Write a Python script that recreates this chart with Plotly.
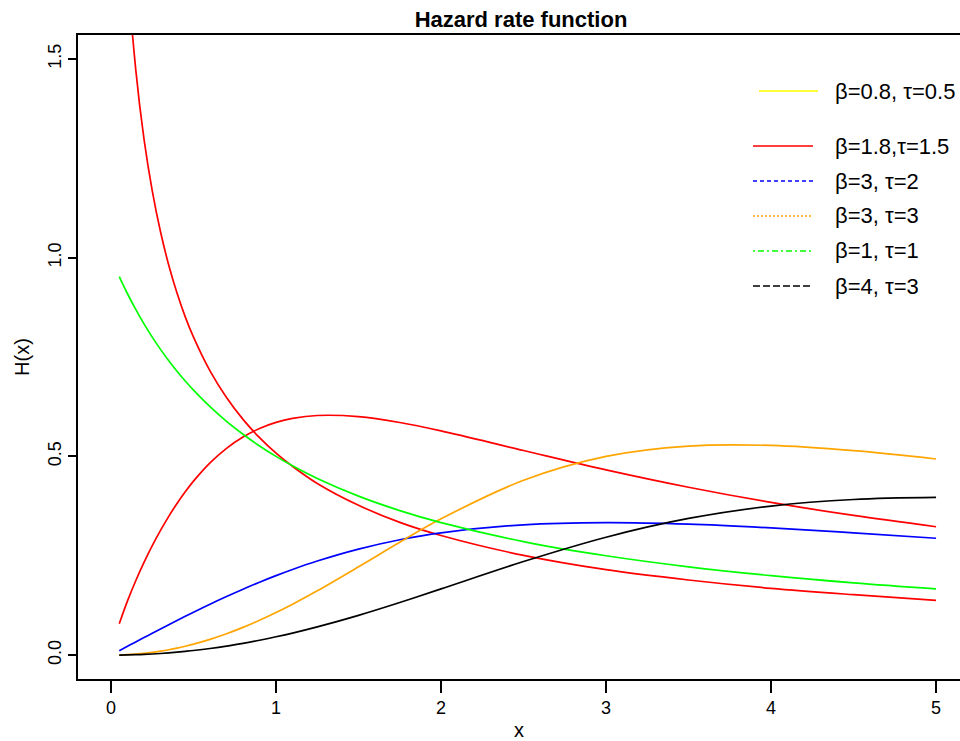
import plotly.graph_objects as go

# ---- data ----
x_vals = [0.05, 0.1, 0.15, 0.2, 0.25, 0.3, 0.35, 0.4, 0.45, 0.5, 0.6, 0.7, 0.8, 0.9,
          1.0, 1.1, 1.25, 1.5, 1.75, 2.0, 2.5, 3.0, 3.5, 4.0, 4.5, 5.0]

h_b08_t05 = [2.189, 1.730, 1.473, 1.298, 1.168, 1.065, 0.981, 0.911, 0.851, 0.800, 0.715,
             0.648, 0.593, 0.547, 0.508, 0.475, 0.432, 0.377, 0.334, 0.301, 0.251, 0.215,
             0.189, 0.168, 0.152, 0.138]
h_b18_t15 = [0.0788, 0.1364, 0.1872, 0.2332, 0.2753, 0.3138, 0.3492, 0.3815, 0.4110, 0.4377,
             0.4836, 0.5203, 0.5487, 0.5701, 0.5854, 0.5955, 0.6029, 0.6000, 0.5852, 0.5640,
             0.5147, 0.4661, 0.4224, 0.3842, 0.3514, 0.3230]
h_b3_t2 = [0.0111, 0.0222, 0.0333, 0.0442, 0.0552, 0.0660, 0.0767, 0.0873, 0.0978, 0.1081,
           0.1282, 0.1475, 0.1660, 0.1835, 0.2000, 0.2155, 0.2367, 0.2667, 0.2902, 0.3077,
           0.3279, 0.3333, 0.3294, 0.3200, 0.3077, 0.2941]
h_b3_t3 = [0.0003, 0.0011, 0.0025, 0.0044, 0.0069, 0.0100, 0.0136, 0.0177, 0.0224, 0.0277,
           0.0397, 0.0538, 0.0698, 0.0876, 0.1071, 0.1281, 0.1619, 0.2222, 0.2839, 0.3429,
           0.4399, 0.5000, 0.5259, 0.5275, 0.5143, 0.4934]
h_b1_t1 = [0.9524, 0.9091, 0.8696, 0.8333, 0.8000, 0.7692, 0.7407, 0.7143, 0.6897, 0.6667,
           0.6250, 0.5882, 0.5556, 0.5263, 0.5000, 0.4762, 0.4444, 0.4000, 0.3636, 0.3333,
           0.2857, 0.2500, 0.2222, 0.2000, 0.1818, 0.1667]
h_b4_t3 = [0.0001, 0.0005, 0.0011, 0.0019, 0.0029, 0.0042, 0.0057, 0.0075, 0.0095, 0.0117,
           0.0168, 0.0228, 0.0298, 0.0375, 0.0462, 0.0556, 0.0711, 0.1002, 0.1325, 0.1667,
           0.2355, 0.2967, 0.3439, 0.3750, 0.3916, 0.3968]

series = [h_b08_t05, h_b18_t15, h_b3_t2, h_b3_t3, h_b1_t1, h_b4_t3]
curve_colors = ["#FF0000", "#FF0000", "#0000FF", "#FFA500", "#00FF00", "#000000"]

legend_labels = ["β=0.8, τ=0.5", "β=1.8,τ=1.5", "β=3, τ=2", "β=3, τ=3", "β=1, τ=1", "β=4, τ=3"]
legend_colors = ["#FFFF00", "#FF0000", "#0000FF", "#FFA500", "#00FF00", "#000000"]
legend_dash = ["solid", "solid", "4px,3px", "2px,2px", "2px,3px,6px,3px", "7px,3px"]

x_ticks = [0, 1, 2, 3, 4, 5]
y_ticks = [0.0, 0.5, 1.0, 1.5]
y_ticktext = ["0.0", "0.5", "1.0", "1.5"]

FONT = "Liberation Sans, Arial, Helvetica, sans-serif"

fig = go.Figure()
for ys, col in zip(series, curve_colors):
    fig.add_trace(go.Scatter(x=x_vals, y=ys, mode="lines",
                             line=dict(color=col, width=1.7, shape="spline"),
                             showlegend=False, hoverinfo="skip"))

# ---- manual legend (no box), pixel layout converted to paper coords ----
W, H = 960, 741
ML, MR, MT, MB = 78, 0, 35, 62
PW, PH = W - ML - MR, H - MT - MB


def px2paper_x(px):
    return (px - ML) / PW


def py2paper_y(py):
    return (H - MB - py) / PH


row_y = [91, 146, 181, 216, 251, 286]
line_x0 = [759, 753, 753, 753, 753, 753]
line_x1 = [818, 813, 813, 813, 813, 813]
shapes = []
annotations = []
for i, (lab, col, dsh) in enumerate(zip(legend_labels, legend_colors, legend_dash)):
    shapes.append(dict(type="line", xref="paper", yref="paper",
                       x0=px2paper_x(line_x0[i]), x1=px2paper_x(line_x1[i]),
                       y0=py2paper_y(row_y[i]), y1=py2paper_y(row_y[i]),
                       line=dict(color=col, width=1.7, dash=dsh)))
    annotations.append(dict(text=lab, xref="paper", yref="paper",
                            x=px2paper_x(833), y=py2paper_y(row_y[i]),
                            xanchor="left", yanchor="middle", showarrow=False,
                            font=dict(family=FONT, size=22, color="black")))

fig.update_layout(
    width=W, height=H,
    margin=dict(l=ML, r=MR, t=MT, b=MB, pad=0),
    paper_bgcolor="white", plot_bgcolor="white",
    font=dict(family=FONT, size=18, color="black"),
    title=dict(text="<b>Hazard rate function</b>", x=521 / W, xref="container",
               xanchor="center", y=1 - 19 / H, yref="container", yanchor="middle",
               font=dict(family=FONT, size=22, color="black")),
    showlegend=False,
    shapes=shapes,
    annotations=annotations,
    xaxis=dict(range=[-0.2, 5.145], tickvals=x_ticks, ticks="outside", ticklen=12,
               tickwidth=1.5, tickcolor="black", showline=True, linecolor="black",
               linewidth=1.5, mirror=True, showgrid=False, zeroline=False,
               tickfont=dict(size=18), ticklabelstandoff=0,
               title=dict(text="x", font=dict(size=20), standoff=16),
               automargin=False),
    yaxis=dict(range=[-0.06, 1.56], tickvals=y_ticks, ticktext=y_ticktext,
               ticks="outside", ticklen=8, tickwidth=1.5, tickcolor="black",
               showline=True, linecolor="black", linewidth=1.5, mirror=False,
               showgrid=False, zeroline=False, tickangle=-90,
               tickfont=dict(size=18), ticklabelstandoff=0,
               title=dict(text="H(x)", font=dict(size=20), standoff=10),
               automargin=False),
)

fig.write_html("out.html")
